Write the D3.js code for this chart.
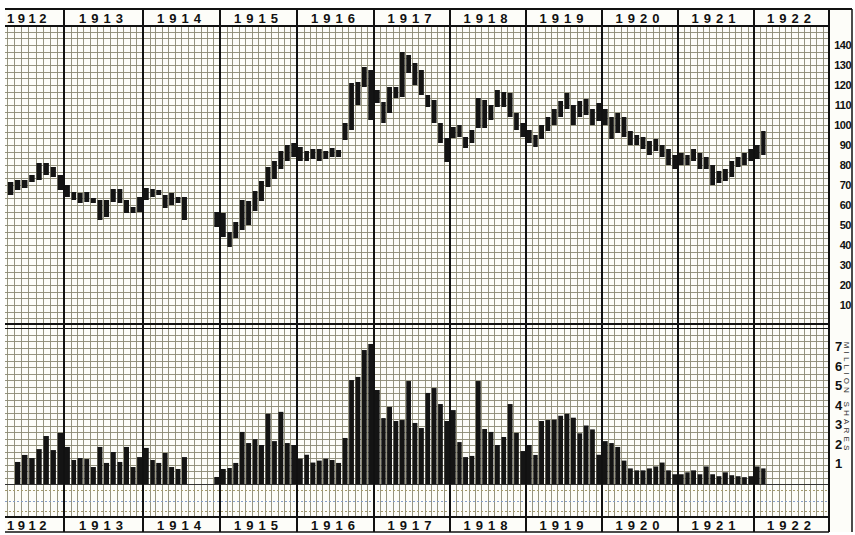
<!DOCTYPE html>
<html><head><meta charset="utf-8">
<script src="https://cdn.jsdelivr.net/npm/d3@7"></script>
<style>body{margin:0;background:#fff}svg{display:block}</style>
</head><body><svg id="c" width="855" height="535"></svg>
<script>
// ---- DATA (monthly, May 1912 .. Feb 1922) ----
const firstMonth = new Date(1912, 4, 1);
const months = d3.timeMonth.range(firstMonth, new Date(1922, 2, 1));
const priceLow = [
  65,67.5,68.5,71.5,72.5,75,74,67.5,                 // 1912 May-Dec
  64,62.5,61,61.5,61,52.5,54,61.5,61,56,56,56.5,      // 1913
  62.5,64,65,58.5,60,61,52.5,null,null,null,null,49,  // 1914
  44,39,43.5,47.5,50,57,62,69,73,78,82,84,            // 1915
  82,82,83,82,83,84,84,92.5,97.5,110,119,102.5,       // 1916
  111,101,106,113.5,114,126,120,115,109,101,91,81.5,  // 1917
  93.5,94,88.5,91,98.5,98.5,102.5,109,109,104,97.5,94,// 1918
  91,89,93,97,100,104,108,100,104,105,100,102,        // 1919
  100,93,96,94,90,90,88,85,87,84,80,78,               // 1920
  80,80,82,78,78,70,71,72,74,79,80,82,                // 1921
  83,85                                               // 1922
];
const priceHigh = [
  71.5,72.5,72.5,75,81,81,79,75,
  70,66.5,66,66.5,63.5,62.5,62.5,68,68,62.5,59,64,
  68.5,68,67.5,65,66,64,64,null,null,null,null,56.5,
  56,46.5,51.5,62.5,62,67,72,79,82,87,90,91,
  89,87,88,88,87,88.5,87.5,101,121,121.5,129,127.5,
  117.5,111.5,119,119,136.5,135,131,127.5,115,112.5,101,93.5,
  99,100,94,97.5,113.5,112.5,110,117.5,116.5,116,106,101,
  97.5,95,100,104,108,112,116,110,112,113,108,111,
  108,104,106,104,97,95,94,92,93,90,88,85,
  86,85,88,86,84,80,77,78,82,84,86,88,
  90,97
];
const volume = [
  null,1.13,1.49,1.33,1.79,2.46,1.74,2.62,
  1.9,1.23,1.33,1.28,0.87,1.9,1.08,1.64,1.13,1.9,0.87,1.38,
  1.85,1.23,1.08,1.59,0.87,0.77,1.38,null,null,null,null,0.36,
  0.77,0.82,1.08,2.67,2.1,2.3,2.0,3.6,2.2,3.7,2.1,2.0,
  1.3,1.5,1.1,1.2,1.3,1.23,1.08,2.36,5.33,5.49,6.87,7.18,
  4.82,3.38,3.95,3.23,3.28,5.28,3.13,2.87,4.67,4.92,4.1,3.23,
  3.79,2.15,1.38,1.44,5.28,2.82,2.67,2.0,2.41,4.1,2.62,1.69,
  2.0,1.49,3.23,3.28,3.3,3.5,3.6,3.4,2.6,3.0,2.8,1.5,
  2.2,2.1,1.9,1.2,0.8,0.7,0.7,0.8,0.9,1.1,0.7,0.5,
  0.5,0.6,0.7,0.5,0.9,0.5,0.4,0.6,0.45,0.4,0.35,0.4,
  0.9,0.8
];
const years = ["1912","1913","1914","1915","1916","1917","1918","1919","1920","1921","1922"];
const priceTicks = [10,20,30,40,50,60,70,80,90,100,110,120,130,140];
const volumeTicks = [1,2,3,4,5,6,7];

// ---- LAYOUT ----
const L = 5, R = 829, OUTR = 852;
const TOP = 9, HEAD_B = 26, SEP = 325, VOL_TOP = 328, VOL_B = 484, STRIP_B = 517, BOT = 532;

const svg = d3.select("#c");
svg.append("rect").attr("width",855).attr("height",535).attr("fill","#fff");
svg.append("rect").attr("x",L).attr("y",TOP).attr("width",OUTR-L).attr("height",BOT-TOP).attr("fill","#fdfdf9");

// x scale: piecewise to follow the year boxes of the paper
const yearStarts = d3.range(1913, 1924).map(y => new Date(y,0,1));
const x = d3.scaleLinear()
  .domain([firstMonth, ...yearStarts].map(d => +d))
  .range([7, 64, 143, 220, 297, 374, 450, 526, 602, 678, 754, 829]);

const yP = d3.scaleLinear().domain([0, 140]).range([SEP, 45]);
const yV = d3.scaleLinear().domain([0, 8]).range([VOL_B, VOL_TOP]);

const defs = svg.append("defs");
defs.append("clipPath").attr("id","clip").append("rect").attr("x",L).attr("y",TOP).attr("width",R-L).attr("height",BOT-TOP);
const g = svg.append("g").attr("clip-path","url(#clip)");

const gridCol = "#8b8872";
// vertical monthly grid
const allMonths = d3.timeMonth.range(new Date(1912,0,1), new Date(1923,0,1));
g.append("g").selectAll("line").data(allMonths).join("line")
  .attr("x1", d => Math.round(x(+d))+0.5).attr("x2", d => Math.round(x(+d))+0.5)
  .attr("y1", HEAD_B).attr("y2", STRIP_B)
  .attr("stroke", gridCol).attr("stroke-width",1).attr("stroke-opacity",0.9);

// horizontal price grid (three lines per 10 points)
const pGrid = d3.range(1, 45).map(k => k*10/3).filter(v => yP(v) > HEAD_B+2);
g.append("g").selectAll("line").data(pGrid).join("line")
  .attr("x1",L).attr("x2",R)
  .attr("y1", d => Math.round(yP(d))+0.5).attr("y2", d => Math.round(yP(d))+0.5)
  .attr("stroke", gridCol).attr("stroke-width",1).attr("stroke-opacity",0.9);
// horizontal volume grid (three lines per million)
const vGrid = d3.range(1, 24).map(k => k/3);
g.append("g").selectAll("line").data(vGrid).join("line")
  .attr("x1",L).attr("x2",R)
  .attr("y1", d => Math.round(yV(d))+0.5).attr("y2", d => Math.round(yV(d))+0.5)
  .attr("stroke", gridCol).attr("stroke-width",1).attr("stroke-opacity",0.9);
// strip under volume
[490, 501, 511].forEach((yy,i) => {
  g.append("line").attr("x1",L).attr("x2",R).attr("y1",yy+0.5).attr("y2",yy+0.5)
    .attr("stroke", i===1 ? "#8aa0c8" : "#a39a6c").attr("stroke-width",1).attr("stroke-dasharray","2,2");
});
g.append("line").attr("x1",L).attr("x2",R).attr("y1",VOL_B+0.5).attr("y2",VOL_B+0.5).attr("stroke","#333").attr("stroke-width",1);

// data
const data = months.map((m,i) => ({m, lo: priceLow[i], hi: priceHigh[i], v: volume[i]}));
const bw = d => {
  const x0 = x(+d.m), x1 = x(+d3.timeMonth.offset(d.m,1));
  return {x: x0 + 0.8, w: (x1 - x0) * 0.76};
};
g.append("g").selectAll("rect").data(data.filter(d => d.lo != null)).join("rect")
  .attr("x", d => bw(d).x).attr("width", d => bw(d).w)
  .attr("y", d => yP(d.hi)).attr("height", d => Math.max(2, yP(d.lo) - yP(d.hi)))
  .attr("fill", "#141414");
g.append("g").selectAll("rect").data(data.filter(d => d.v != null)).join("rect")
  .attr("x", d => bw(d).x).attr("width", d => bw(d).w)
  .attr("y", d => yV(d.v)).attr("height", d => yV(0) - yV(d.v))
  .attr("fill", "#141414");

// heavy lines
const frame = svg.append("g").attr("fill","none").attr("stroke","#111");
frame.append("line").attr("x1",L).attr("x2",OUTR).attr("y1",TOP).attr("y2",TOP).attr("stroke-width",2);
frame.append("line").attr("x1",L).attr("x2",R).attr("y1",HEAD_B).attr("y2",HEAD_B).attr("stroke-width",2);
frame.append("line").attr("x1",L).attr("x2",R).attr("y1",SEP-1).attr("y2",SEP-1).attr("stroke-width",2);
frame.append("line").attr("x1",L).attr("x2",R).attr("y1",VOL_TOP+0.5).attr("y2",VOL_TOP+0.5).attr("stroke-width",1);
frame.append("line").attr("x1",L).attr("x2",R).attr("y1",STRIP_B).attr("y2",STRIP_B).attr("stroke-width",2);
frame.append("line").attr("x1",L).attr("x2",R).attr("y1",BOT).attr("y2",BOT).attr("stroke-width",1.5);
frame.append("line").attr("x1",R).attr("x2",R).attr("y1",TOP).attr("y2",BOT).attr("stroke-width",2);
frame.append("line").attr("x1",OUTR).attr("x2",OUTR).attr("y1",TOP).attr("y2",BOT).attr("stroke-width",1.5);
svg.append("g").attr("clip-path","url(#clip)").selectAll("line").data(yearStarts.slice(0,10)).join("line")
  .attr("x1", d => x(+d)).attr("x2", d => x(+d)).attr("y1",TOP).attr("y2",BOT)
  .attr("stroke","#111").attr("stroke-width",2);

// year labels top and bottom; the partial 1912 box is labelled from its left edge
const yearCenter = yr => (x(+new Date(+yr,0,1)) + x(+new Date(+yr+1,0,1))) / 2;
const font = "'Liberation Sans', Arial, sans-serif";
[18, 525].forEach(yy => {
  svg.append("g").selectAll("text").data(years).join("text")
    .attr("x", (d,i) => i === 0 ? L + 2 : yearCenter(d)).attr("y", yy)
    .attr("text-anchor", (d,i) => i === 0 ? "start" : "middle").attr("dominant-baseline","central")
    .attr("font-family", font).attr("font-weight","bold").attr("font-size",13)
    .attr("letter-spacing", (d,i) => i === 0 ? "3.5px" : "5px").attr("fill","#111")
    .text(d => d);
});

// right axis labels
svg.append("g").selectAll("text").data(priceTicks).join("text")
  .attr("x", 851).attr("y", d => yP(d)).attr("text-anchor","end").attr("dominant-baseline","central")
  .attr("font-family", font).attr("font-weight","bold").attr("font-size",11).attr("letter-spacing","-0.5px")
  .attr("fill","#111").text(d => d);
svg.append("g").selectAll("text").data(volumeTicks).join("text")
  .attr("x", 835).attr("y", d => yV(d) - 1).attr("text-anchor","start").attr("dominant-baseline","central")
  .attr("font-family", font).attr("font-weight","bold").attr("font-size",13)
  .attr("fill","#111").text(d => d);
svg.append("text").attr("transform", `translate(846,${yV(7.3)}) rotate(90)`)
  .attr("font-family", font).attr("font-size",8).attr("letter-spacing","3.2px").attr("fill","#333")
  .attr("dominant-baseline","central")
  .text("MILLION SHARES");
</script></body></html>
